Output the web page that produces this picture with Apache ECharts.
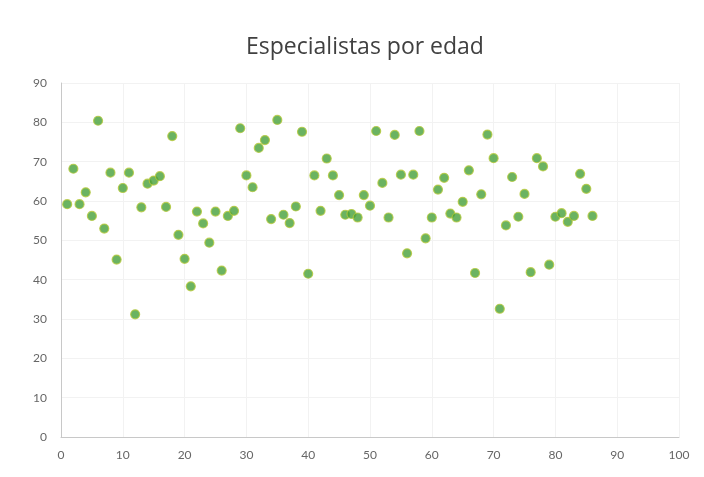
<!DOCTYPE html>
<html>
<head>
<meta charset="utf-8">
<script src="https://cdn.jsdelivr.net/npm/echarts@6/dist/echarts.min.js"></script>
<style>html,body{margin:0;padding:0;background:#fff;}#c{width:704px;height:477px;}</style>
</head>
<body>
<div id="c"></div>
<script>
const title = "Especialistas por edad";
const xValues = [1,2,3,4,5,6,7,8,9,10,11,12,13,14,15,16,17,18,19,20,21,22,23,24,25,26,27,28,29,30,31,32,33,34,35,36,37,38,39,40,41,42,43,44,45,46,47,48,49,50,51,52,53,54,55,56,57,58,59,60,61,62,63,64,65,66,67,68,69,70,71,72,73,74,75,76,77,78,79,80,81,82,83,84,85,86];
const yValues = [59.2,68.2,59.2,62.2,56.2,80.4,53,67.2,45.1,63.3,67.2,31.2,58.4,64.4,65.2,66.3,58.5,76.5,51.4,45.3,38.3,57.3,54.3,49.4,57.3,42.3,56.2,57.5,78.5,66.5,63.5,73.5,75.5,55.4,80.6,56.5,54.4,58.6,77.6,41.5,66.5,57.5,70.8,66.5,61.5,56.5,56.7,55.8,61.5,58.8,77.8,64.6,55.8,76.8,66.7,46.7,66.7,77.8,50.5,55.8,62.9,65.9,56.8,55.8,59.8,67.8,41.7,61.7,76.9,70.9,32.6,53.8,66.1,56.0,61.8,41.9,70.9,68.8,43.8,56.0,56.9,54.7,56.2,66.9,63.1,56.2];
const xTicks = [0,10,20,30,40,50,60,70,80,90,100];
const yTicks = [0,10,20,30,40,50,60,70,80,90];

const points = xValues.map((x, i) => [x, yValues[i]]);
const chart = echarts.init(document.getElementById('c'), null, {renderer: 'canvas'});
const font = 'Lato, "Open Sans", sans-serif';
chart.setOption({
  animation: false,
  backgroundColor: '#ffffff',
  title: {
    text: title, left: 241, top: 31,
    textStyle: {fontFamily: '"Open Sans", sans-serif', fontSize: 23, fontWeight: 'normal', color: '#404040'}
  },
  grid: {left: 61, right: 25, top: 83, bottom: 40},
  xAxis: {
    type: 'value', min: xTicks[0], max: xTicks[xTicks.length - 1], interval: 10,
    axisLine: {show: true, lineStyle: {color: '#c8c8c8', width: 1}},
    axisTick: {show: false},
    axisLabel: {color: '#666666', fontFamily: font, fontSize: 12, margin: 12},
    splitLine: {show: true, lineStyle: {color: '#f2f2f2'}}
  },
  yAxis: {
    type: 'value', min: yTicks[0], max: yTicks[yTicks.length - 1], interval: 10,
    axisLine: {show: true, lineStyle: {color: '#c8c8c8', width: 1}},
    axisTick: {show: false},
    axisLabel: {color: '#666666', fontFamily: font, fontSize: 12, margin: 14},
    splitLine: {show: true, lineStyle: {color: '#f2f2f2'}}
  },
  series: [{
    type: 'scatter',
    data: points,
    symbol: 'circle',
    symbolSize: 9,
    itemStyle: {color: '#46a03a', borderColor: '#b4c83a', borderWidth: 1.2}
  }]
});
</script>
</body>
</html>
